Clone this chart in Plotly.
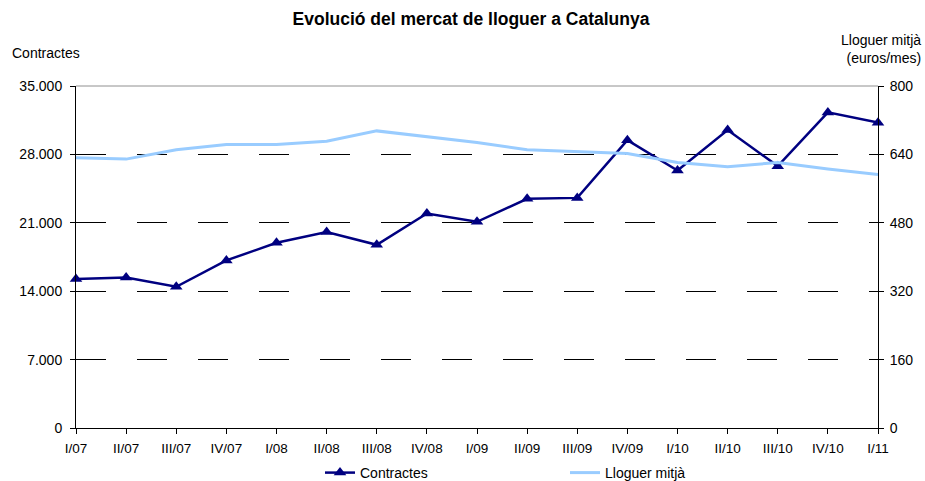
import plotly.graph_objects as go

quarters = ["I/07", "II/07", "III/07", "IV/07", "I/08", "II/08", "III/08", "IV/08",
            "I/09", "II/09", "III/09", "IV/09", "I/10", "II/10", "III/10", "IV/10", "I/11"]
contractes = [15250, 15400, 14450, 17150, 18950, 20050, 18750, 21950,
              21100, 23450, 23550, 29450, 26350, 30500, 26800, 32300, 31250]
lloguer = [632, 629, 651, 663, 663, 671, 695, 681,
           668, 651, 646, 642, 621, 611, 621, 606, 593]

left_ticks = [0, 7000, 14000, 21000, 28000, 35000]
left_text = ["0", "7.000", "14.000", "21.000", "28.000", "35.000"]
right_ticks = [0, 160, 320, 480, 640, 800]
right_text = ["0", "160", "320", "480", "640", "800"]

FONT = "Liberation Sans, Arial, sans-serif"

fig = go.Figure()
fig.add_trace(go.Scatter(
    x=quarters, y=contractes, name="Contractes", mode="lines+markers",
    line=dict(color="#000080", width=2.5),
    marker=dict(symbol="triangle-up", size=11, color="#000080"),
    cliponaxis=False,
))
fig.add_trace(go.Scatter(
    x=quarters, y=lloguer, name="Lloguer mitjà", mode="lines", yaxis="y2",
    line=dict(color="#99CCFF", width=3),
    cliponaxis=False,
))

W, H = 925, 481
fig.update_layout(
    width=W, height=H,
    margin=dict(l=76, r=47, t=86, b=53, autoexpand=False),
    paper_bgcolor="white", plot_bgcolor="white",
    font=dict(family=FONT, size=13, color="black"),
    title=dict(text="<b>Evolució del mercat de lloguer a Catalunya</b>",
               x=471 / W, xanchor="center", y=1 - 19 / H, yanchor="middle",
               font=dict(family=FONT, size=17.5, color="black")),
    xaxis=dict(type="category", range=[0, 16], showgrid=False, automargin=False,
               showline=True, linecolor="black", linewidth=1,
               ticks="outside", ticklen=5, tickcolor="black",
               tickfont=dict(size=13.5), ticklabelstandoff=3, zeroline=False),
    yaxis=dict(range=[0, 35000], tickvals=left_ticks, ticktext=left_text,
               automargin=False,
               showline=True, linecolor="black", linewidth=1,
               ticks="outside", ticklen=5, tickcolor="black",
               tickfont=dict(size=14), ticklabelstandoff=5,
               showgrid=True, gridcolor="black", gridwidth=1, griddash="30px,31px",
               zeroline=False),
    yaxis2=dict(range=[0, 800], tickvals=right_ticks, ticktext=right_text,
                overlaying="y", side="right", automargin=False,
                showline=True, linecolor="black", linewidth=1,
                ticks="outside", ticklen=5, tickcolor="black",
                tickfont=dict(size=14), ticklabelstandoff=3,
                showgrid=False, zeroline=False),
    legend=dict(orientation="h", x=(320 - 76) / 802, xanchor="left",
                y=-(473 - 428) / 342, yanchor="middle",
                font=dict(size=14), entrywidth=200, itemwidth=30,
                bgcolor="rgba(0,0,0,0)"),
    showlegend=True,
    shapes=[dict(type="line", xref="paper", yref="paper", x0=0, x1=1, y0=1, y1=1,
                 line=dict(color="#909090", width=1), layer="below")],
    annotations=[
        dict(text="Contractes", xref="paper", yref="paper", x=-66 / 802, xanchor="left",
             y=(428 - 53) / 342, yanchor="middle", showarrow=False, font=dict(size=14)),
        dict(text="Lloguer mitjà<br>(euros/mes)", xref="paper", yref="paper",
             x=(923 - 76) / 802, xanchor="right", align="right",
             y=(428 - 49) / 342, yanchor="middle", showarrow=False, font=dict(size=14)),
    ],
)

fig.write_html(
    "out.html",
    config={"displayModeBar": False},
    post_script="document.body.style.margin='0px';document.body.style.overflow='hidden';",
)
